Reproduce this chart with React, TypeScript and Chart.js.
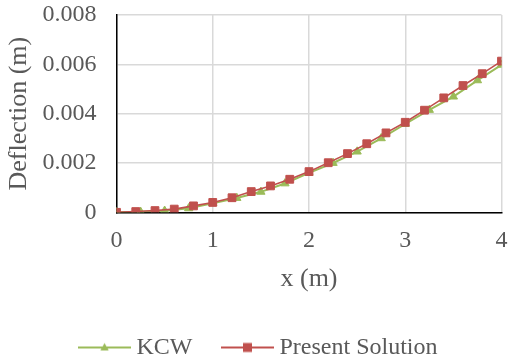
import React, { useEffect, useRef } from "react";
import { Chart, registerables } from "chart.js";

Chart.register(...registerables);

const kcwX = [0, 0.25, 0.5, 0.75, 1, 1.25, 1.5, 1.75, 2, 2.25, 2.5, 2.75, 3, 3.25, 3.5, 3.75, 4];
const kcwY = [0, 0.00002, 0.00006, 0.00016, 0.00037, 0.00058, 0.00083, 0.00117, 0.0016, 0.002, 0.00246, 0.003, 0.00358, 0.00415, 0.00469, 0.00535, 0.00598];

const presentX = [0, 0.2, 0.4, 0.6, 0.8, 1, 1.2, 1.4, 1.6, 1.8, 2, 2.2, 2.4, 2.6, 2.8, 3, 3.2, 3.4, 3.6, 3.8, 4];
const presentY = [0, 0.00003, 0.00007, 0.00013, 0.00026, 0.0004, 0.00059, 0.00084, 0.00107, 0.00134, 0.00165, 0.00201, 0.00238, 0.00278, 0.00322, 0.00365, 0.00414, 0.00464, 0.00514, 0.00562, 0.00613];

const xTickLabels = ["0", "1", "2", "3", "4"];
const yTickLabels = ["0", "0.002", "0.004", "0.006", "0.008"];

const seriesNames = ["KCW", "Present Solution"];
const GREEN = "#9BBB59";
const RED = "#C0504D";
const TEXT = "#595959";
const FONT = "'Liberation Serif', 'Times New Roman', serif";

function makeSample(color: string, kind: "triangle" | "square", lw: number) {
  const c = document.createElement("canvas");
  c.width = 53;
  c.height = 14;
  const g = c.getContext("2d")!;
  g.strokeStyle = color;
  g.lineWidth = lw;
  g.beginPath();
  g.moveTo(0, 7);
  g.lineTo(53, 7);
  g.stroke();
  g.fillStyle = color;
  if (kind === "square") {
    g.fillRect(26.5 - 4.5, 7 - 4.5, 9, 9);
  } else {
    g.beginPath();
    g.moveTo(26.5, 7 - 4.5);
    g.lineTo(26.5 + 4.2, 7 + 3);
    g.lineTo(26.5 - 4.2, 7 + 3);
    g.closePath();
    g.fill();
  }
  return c;
}

const noPad = (s: any) => {
  s.paddingTop = 0;
  s.paddingBottom = 0;
  s.paddingLeft = 0;
  s.paddingRight = 0;
};

export default function App() {
  const ref = useRef<HTMLCanvasElement | null>(null);
  useEffect(() => {
    const canvas = ref.current!;
    const samples = [makeSample(GREEN, "triangle", 2), makeSample(RED, "square", 1.8)];
    const chart = new Chart(canvas, {
      type: "line",
      data: {
        datasets: [
          {
            label: seriesNames[0],
            data: kcwX.map((x, i) => ({ x, y: kcwY[i] })),
            borderColor: GREEN,
            backgroundColor: GREEN,
            borderWidth: 2,
            pointStyle: "triangle",
            pointRadius: 4.8,
            pointBorderWidth: 1,
            order: 1,
          },
          {
            label: seriesNames[1],
            data: presentX.map((x, i) => ({ x, y: presentY[i] })),
            borderColor: RED,
            backgroundColor: RED,
            borderWidth: 1.6,
            pointStyle: "rect",
            pointRadius: 5.5,
            pointBorderWidth: 1,
            order: 0,
          },
        ],
      },
      options: {
        responsive: false,
        animation: false,
        devicePixelRatio: 1,
        layout: { padding: { left: 14, right: 0, top: 15, bottom: -9.5 } },
        plugins: {
          tooltip: { enabled: false },
          legend: {
            position: "bottom",
            align: "center",
            labels: {
              usePointStyle: true,
              pointStyleWidth: 40,
              padding: 35,
              color: TEXT,
              font: { family: FONT, size: 24 },
              generateLabels: (ch: any) =>
                ch.data.datasets.map((ds: any, i: number) => ({
                  text: ds.label,
                  fillStyle: ds.borderColor,
                  strokeStyle: ds.borderColor,
                  lineWidth: 0,
                  pointStyle: samples[i],
                  hidden: false,
                  datasetIndex: i,
                  fontColor: TEXT,
                })),
            },
          },
        },
        scales: {
          x: {
            type: "linear",
            min: 0,
            max: 4,
            afterBuildTicks: (s: any) => {
              s.ticks = xTickLabels.map((t) => ({ value: Number(t) }));
            },
            afterFit: (s: any) => {
              s.height = 88.2;
              noPad(s);
            },
            ticks: {
              padding: 14,
              color: TEXT,
              font: { family: FONT, size: 24, lineHeight: 1.2 },
              autoSkip: false,
              maxRotation: 0,
              callback: (v: any) => xTickLabels[Math.round(Number(v))] ?? "",
            },
            grid: { color: "#D9D9D9", lineWidth: 1.5, drawTicks: false },
            border: { color: "#000000", width: 1.5 },
            title: {
              display: true,
              text: "x (m)",
              color: TEXT,
              font: { family: FONT, size: 26, lineHeight: 0.8 },
              padding: { top: 0, bottom: 10.9 },
            },
          },
          y: {
            type: "linear",
            min: 0,
            max: 0.008,
            afterBuildTicks: (s: any) => {
              s.ticks = yTickLabels.map((t) => ({ value: Number(t) }));
            },
            afterFit: (s: any) => {
              s.width = 102.5;
              noPad(s);
            },
            ticks: {
              padding: 20,
              color: TEXT,
              font: { family: FONT, size: 24, lineHeight: 1.2 },
              callback: (v: any) => {
                const idx = yTickLabels.findIndex((t) => Math.abs(Number(t) - Number(v)) < 1e-9);
                return idx >= 0 ? yTickLabels[idx] : "";
              },
            },
            grid: { color: "#D9D9D9", lineWidth: 1.5, drawTicks: false },
            border: { color: "#000000", width: 1.5 },
            title: {
              display: true,
              text: "Deflection (m)",
              color: TEXT,
              font: { family: FONT, size: 26, lineHeight: 0.42 },
              padding: { top: 0, bottom: 0 },
            },
          },
        },
      },
    } as any);
    return () => chart.destroy();
  }, []);
  return (
    <div style={{ position: "fixed", left: 0, top: 0, width: 508, height: 360, background: "#fff" }}>
      <canvas ref={ref} width={508} height={360} style={{ display: "block" }} />
    </div>
  );
}
